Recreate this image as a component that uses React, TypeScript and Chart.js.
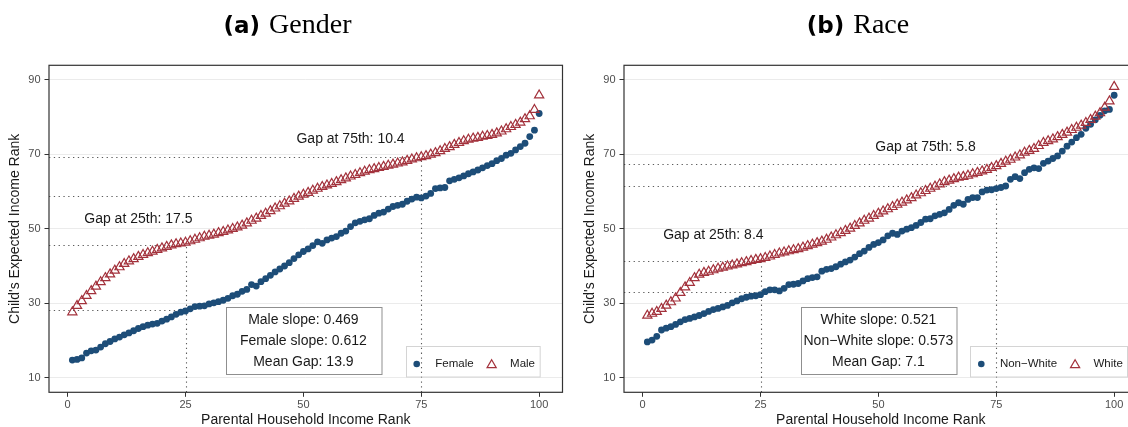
import React, { useEffect, useRef } from "react";
import { Chart, registerables } from "chart.js";

Chart.register(...registerables);

// ---------- data ----------
const RANKS: number[] = Array.from({ length: 100 }, (_, i) => i + 1);

const FEMALE_RANK = [
  14.7, 14.9, 15.3, 16.6, 17.2, 17.4, 18.2, 19.1, 19.7, 20.4,
  20.9, 21.5, 22.0, 22.6, 23.2, 23.7, 24.1, 24.4, 24.6, 25.2,
  25.7, 26.3, 27.0, 27.6, 27.9, 28.5, 29.1, 29.2, 29.3, 29.8,
  30.1, 30.4, 30.8, 31.3, 32.0, 32.4, 33.2, 33.7, 35.0, 34.6,
  35.8, 36.6, 37.5, 38.4, 39.2, 40.0, 40.9, 42.0, 43.0, 43.9,
  44.6, 45.5, 46.5, 46.1, 47.0, 47.5, 47.9, 48.8, 49.4, 50.6,
  51.6, 52.0, 52.4, 52.7, 53.6, 54.2, 54.5, 55.3, 56.0, 56.3,
  56.6, 57.4, 58.0, 58.5, 58.3, 58.8, 59.5, 60.8, 61.0, 61.1,
  62.9, 63.3, 63.7, 64.2, 64.8, 65.3, 65.8, 66.4, 67.0, 67.5,
  68.3, 68.9, 69.8, 70.3, 71.2, 72.1, 73.0, 74.8, 76.5, 81.0,
];

const MALE_RANK = [
  27.6, 29.3, 30.6, 32.0, 33.3, 34.5, 35.7, 36.8, 37.8, 38.8,
  39.7, 40.6, 41.3, 41.9, 42.5, 43.0, 43.5, 43.9, 44.4, 44.8,
  45.2, 45.6, 45.9, 46.1, 46.3, 46.7, 47.1, 47.5, 47.9, 48.2,
  48.5, 48.9, 49.2, 49.6, 50.0, 50.4, 50.9, 51.5, 52.2, 52.8,
  53.5, 54.1, 54.8, 55.5, 56.1, 56.8, 57.4, 58.1, 58.7, 59.2,
  59.7, 60.3, 60.8, 61.3, 61.7, 62.1, 62.6, 63.1, 63.6, 64.1,
  64.5, 65.0, 65.4, 65.8, 66.1, 66.4, 66.7, 67.0, 67.3, 67.6,
  67.9, 68.3, 68.7, 69.0, 69.3, 69.6, 70.0, 70.4, 70.9, 71.5,
  72.0, 72.6, 73.1, 73.6, 74.0, 74.3, 74.5, 74.8, 75.0, 75.3,
  75.7, 76.2, 76.8, 77.4, 78.0, 78.6, 79.5, 80.3, 82.0, 85.9,
];

const NONWHITE_RANK = [
  19.6, 20.1, 21.1, 22.8, 23.3, 23.7, 24.3, 25.0, 25.6, 25.9,
  26.3, 26.7, 27.2, 27.8, 28.3, 28.6, 29.0, 29.4, 30.1, 30.6,
  31.2, 31.6, 31.9, 32.0, 32.3, 33.1, 33.6, 33.6, 33.3, 34.0,
  35.0, 35.1, 35.3, 36.0, 36.6, 36.9, 37.1, 38.6, 39.1, 39.3,
  39.8, 40.5, 41.1, 41.6, 42.4, 43.3, 44.0, 45.0, 45.8, 46.3,
  47.0, 48.1, 48.8, 48.5, 49.4, 49.9, 50.3, 50.9, 51.7, 52.6,
  52.7, 53.5, 53.9, 54.3, 55.2, 56.3, 57.0, 56.6, 57.9, 58.4,
  58.4, 59.9, 60.4, 60.5, 60.8, 61.1, 61.5, 63.3, 64.0, 63.5,
  65.1, 66.0, 66.4, 66.2, 67.6, 68.2, 68.9, 69.6, 70.9, 72.2,
  73.3, 74.5, 75.4, 77.0, 78.1, 79.3, 80.5, 81.7, 82.1, 85.9,
];

const WHITE_RANK = [
  26.7, 27.2, 27.7, 28.5, 29.4, 30.3, 31.3, 32.8, 34.3, 35.5,
  36.8, 37.7, 38.2, 38.5, 38.9, 39.3, 39.6, 39.9, 40.2, 40.5,
  40.8, 41.1, 41.4, 41.7, 41.9, 42.2, 42.6, 43.0, 43.4, 43.7,
  44.0, 44.3, 44.6, 45.0, 45.4, 45.8, 46.2, 46.6, 47.1, 47.7,
  48.3, 48.9, 49.5, 50.1, 50.8, 51.5, 52.2, 52.8, 53.5, 54.1,
  54.7, 55.3, 55.9, 56.5, 57.1, 57.7, 58.3, 59.0, 59.6, 60.2,
  60.8, 61.4, 62.0, 62.6, 63.0, 63.4, 63.8, 64.0, 64.3, 64.7,
  65.1, 65.5, 65.9, 66.4, 66.9, 67.5, 68.1, 68.6, 69.2, 69.8,
  70.5, 71.0, 71.5, 72.3, 73.1, 73.6, 74.1, 74.7, 75.3, 75.9,
  76.6, 77.2, 77.8, 78.5, 79.3, 80.2, 81.1, 82.6, 84.3, 88.2,
];

const X_TICKS = [0, 25, 50, 75, 100];
const Y_TICKS = [10, 30, 50, 70, 90];

// reference values at the 25th / 75th percentiles: [upper group, lower group]
const GENDER_AT_25 = [45.75, 28.25];
const GENDER_AT_75 = [69.2, 58.8];
const RACE_AT_25 = [41.3, 32.9];
const RACE_AT_75 = [67.3, 61.5];

const GENDER_GAP_LABELS = ["Gap at 25th: 17.5", "Gap at 75th: 10.4"];
const RACE_GAP_LABELS = ["Gap at 25th: 8.4", "Gap at 75th: 5.8"];
const GENDER_GAP_POS = [[15, 52.6], [60, 74.1]];
const RACE_GAP_POS = [[15, 48.3], [60, 72.0]];

const GENDER_STATS = ["Male slope: 0.469", "Female slope: 0.612", "Mean Gap: 13.9"];
const RACE_STATS = ["White slope: 0.521", "Non\u2212White slope: 0.573", "Mean Gap: 7.1"];

const GENDER_SERIES = ["Female", "Male"];
const RACE_SERIES = ["Non\u2212White", "White"];

// ---------- style ----------
const BLUE = "#1d4d78";
const RED = "#a3323c";
const SANS = "'Liberation Sans', Arial, Helvetica, sans-serif";
const CANVAS_W = 569;
const CANVAS_H = 427;

type PanelProps = {
  left: number;
  tag: string;
  name: string;
  titleCenter: number;
  low: number[];
  high: number[];
  series: string[];
  at25: number[];
  at75: number[];
  gapLabels: string[];
  gapPos: number[][];
  stats: string[];
  legendLeft: number;
};

function Panel(p: PanelProps) {
  const ref = useRef<HTMLCanvasElement>(null);

  useEffect(() => {
    const canvas = ref.current!;

    const drawTriangle = (ctx: CanvasRenderingContext2D, cx: number, cy: number, r: number) => {
      ctx.beginPath();
      for (let k = 0; k < 3; k++) {
        const a = (k * 2 * Math.PI) / 3;
        const px = cx + Math.sin(a) * r;
        const py = cy - Math.cos(a) * r;
        if (k === 0) ctx.moveTo(px, py);
        else ctx.lineTo(px, py);
      }
      ctx.closePath();
      ctx.stroke();
    };

    const decor = {
      id: "decor",
      beforeDatasetsDraw(chart: any) {
        const { ctx, chartArea: ca, scales } = chart;
        const xs = scales.x;
        const ys = scales.y;
        ctx.save();
        ctx.strokeStyle = "#5c5c5c";
        ctx.lineWidth = 1.1;
        ctx.setLineDash([1.3, 3.5]);
        const refs: [number, number[]][] = [
          [25, p.at25],
          [75, p.at75],
        ];
        for (const [pct, vals] of refs) {
          const xp = Math.round(xs.getPixelForValue(pct)) + 0.5;
          for (const v of vals) {
            const yp = Math.round(ys.getPixelForValue(v)) + 0.5;
            ctx.beginPath();
            ctx.moveTo(ca.left, yp);
            ctx.lineTo(xp, yp);
            ctx.stroke();
          }
          ctx.beginPath();
          ctx.moveTo(xp, ca.bottom);
          ctx.lineTo(xp, ys.getPixelForValue(Math.max(...vals)));
          ctx.stroke();
        }
        ctx.restore();
      },
      afterDatasetsDraw(chart: any) {
        const { ctx, chartArea: ca, scales } = chart;
        const xs = scales.x;
        const ys = scales.y;
        ctx.save();

        // panel border
        ctx.strokeStyle = "#333333";
        ctx.lineWidth = 1.2;
        ctx.strokeRect(ca.left, ca.top, ca.right - ca.left, ca.bottom - ca.top);

        // gap labels
        ctx.fillStyle = "#1a1a1a";
        ctx.font = `14px ${SANS}`;
        ctx.textAlign = "center";
        ctx.textBaseline = "middle";
        p.gapLabels.forEach((t, i) => {
          ctx.fillText(t, xs.getPixelForValue(p.gapPos[i][0]), ys.getPixelForValue(p.gapPos[i][1]));
        });

        // stats box
        const bw = 155.5;
        const bh = 67;
        const bcx = xs.getPixelForValue(50);
        const bcy = ys.getPixelForValue(20.1);
        const bx = bcx - bw / 2;
        const by = bcy - bh / 2;
        ctx.fillStyle = "#ffffff";
        ctx.fillRect(bx, by, bw, bh);
        ctx.strokeStyle = "#8f8f8f";
        ctx.lineWidth = 1;
        ctx.strokeRect(Math.round(bx) + 0.5, Math.round(by) + 0.5, bw, bh);
        ctx.fillStyle = "#1a1a1a";
        ctx.font = `14px ${SANS}`;
        p.stats.forEach((t, i) => {
          ctx.fillText(t, bcx, by + 13.8 + i * 21);
        });

        // legend
        const lx = ca.left + p.legendLeft;
        const ly = ca.bottom - 46.6;
        const lcy = ly + 18.3;
        ctx.font = `11.5px ${SANS}`;
        ctx.textAlign = "left";
        const w1 = ctx.measureText(p.series[0]).width;
        const w2 = ctx.measureText(p.series[1]).width;
        const t1 = lx + 29.6;
        const triX = t1 + w1 + 18;
        const t2 = triX + 18.4;
        const right = t2 + w2 + 4.4;
        ctx.strokeStyle = "#d4d4d4";
        ctx.lineWidth = 1;
        ctx.strokeRect(Math.round(lx) + 0.5, Math.round(ly) + 0.5, right - lx, 30.5);
        ctx.fillStyle = BLUE;
        ctx.beginPath();
        ctx.arc(lx + 11, lcy, 3.3, 0, Math.PI * 2);
        ctx.fill();
        ctx.strokeStyle = RED;
        ctx.lineWidth = 1.2;
        drawTriangle(ctx, triX, lcy + 1, 5.3);
        ctx.fillStyle = "#1a1a1a";
        ctx.fillText(p.series[0], t1, lcy);
        ctx.fillText(p.series[1], t2, lcy);

        ctx.restore();
      },
      afterDraw(chart: any) {
        const { ctx } = chart;
        ctx.save();
        ctx.fillStyle = "#000000";
        ctx.textBaseline = "alphabetic";
        ctx.textAlign = "left";
        const tagFont = "bold 23px 'DejaVu Sans', sans-serif";
        const nameFont = "28px 'Liberation Serif', 'Times New Roman', serif";
        ctx.font = tagFont;
        const tw = ctx.measureText(p.tag).width;
        ctx.font = nameFont;
        const nw = ctx.measureText(p.name).width;
        const gap = 9;
        const start = p.titleCenter - (tw + gap + nw) / 2;
        ctx.font = tagFont;
        ctx.fillText(p.tag, start, 33.3);
        ctx.font = nameFont;
        ctx.fillText(p.name, start + tw + gap, 33.3);
        ctx.restore();
      },
    };

    const tickFont = { family: SANS, size: 11 };
    const titleFont = { family: SANS, size: 14, lineHeight: 1 };

    const chart = new Chart(canvas, {
      type: "scatter",
      data: {
        datasets: [
          {
            label: p.series[1],
            data: RANKS.map((r, i) => ({ x: r, y: p.high[i] })),
            pointStyle: "triangle",
            pointRadius: 5.3,
            pointBackgroundColor: "rgba(0,0,0,0)",
            backgroundColor: "rgba(0,0,0,0)",
            pointBorderColor: RED,
            borderColor: RED,
            pointBorderWidth: 1.2,
          } as any,
          {
            label: p.series[0],
            data: RANKS.map((r, i) => ({ x: r, y: p.low[i] })),
            pointStyle: "circle",
            pointRadius: 3.4,
            pointBackgroundColor: BLUE,
            backgroundColor: BLUE,
            pointBorderColor: BLUE,
            borderColor: BLUE,
            pointBorderWidth: 0,
          } as any,
        ],
      },
      options: {
        responsive: false,
        animation: false,
        events: [],
        layout: { padding: { top: 65.3, right: 2.3, bottom: 0, left: 0 } },
        plugins: {
          legend: { display: false },
          tooltip: { enabled: false },
          title: { display: false },
        },
        scales: {
          x: {
            type: "linear",
            min: -3.95,
            max: 104.95,
            afterBuildTicks: (s: any) => {
              s.ticks = X_TICKS.map((v) => ({ value: v }));
            },
            afterFit: (s: any) => {
              s.height = 34.7;
            },
            ticks: { color: "#4d4d4d", font: tickFont, padding: 2, maxRotation: 0, autoSkip: false },
            grid: { drawOnChartArea: false, drawTicks: true, tickLength: 4.5, tickColor: "#333333", tickWidth: 1 },
            border: { display: false },
            title: {
              display: true,
              text: "Parental Household Income Rank",
              color: "#1a1a1a",
              font: titleFont,
              padding: { top: 0, bottom: 0 },
            },
          },
          y: {
            type: "linear",
            min: 6.05,
            max: 93.95,
            afterBuildTicks: (s: any) => {
              s.ticks = Y_TICKS.map((v) => ({ value: v }));
            },
            afterFit: (s: any) => {
              s.width = 49;
            },
            ticks: { color: "#4d4d4d", font: tickFont, padding: 4, autoSkip: false },
            grid: { color: "#ebebeb", lineWidth: 1, drawTicks: true, tickLength: 4.5, tickColor: "#333333", tickWidth: 1 },
            border: { display: false },
            title: {
              display: true,
              text: "Child's Expected Income Rank",
              color: "#1a1a1a",
              font: titleFont,
              padding: { top: 8.5, bottom: 0 },
            },
          },
        },
      } as any,
      plugins: [decor],
    });

    return () => chart.destroy();
  }, []);

  return (
    <canvas
      ref={ref}
      width={CANVAS_W}
      height={CANVAS_H}
      style={{ position: "absolute", left: p.left, top: 0, width: CANVAS_W, height: CANVAS_H, display: "block" }}
    />
  );
}

export default function App() {
  return (
    <div
      style={{
        position: "absolute",
        left: 0,
        top: 0,
        width: 1128,
        height: 427,
        overflow: "hidden",
        background: "#ffffff",
      }}
    >
      <Panel
        left={0}
        tag="(a)"
        name="Gender"
        titleCenter={287.5}
        low={FEMALE_RANK}
        high={MALE_RANK}
        series={GENDER_SERIES}
        at25={GENDER_AT_25}
        at75={GENDER_AT_75}
        gapLabels={GENDER_GAP_LABELS}
        gapPos={GENDER_GAP_POS}
        stats={GENDER_STATS}
        legendLeft={356.7}
      />
      <Panel
        left={575}
        tag="(b)"
        name="Race"
        titleCenter={283}
        low={NONWHITE_RANK}
        high={WHITE_RANK}
        series={RACE_SERIES}
        at25={RACE_AT_25}
        at75={RACE_AT_75}
        gapLabels={RACE_GAP_LABELS}
        gapPos={RACE_GAP_POS}
        stats={RACE_STATS}
        legendLeft={346.3}
      />
    </div>
  );
}
